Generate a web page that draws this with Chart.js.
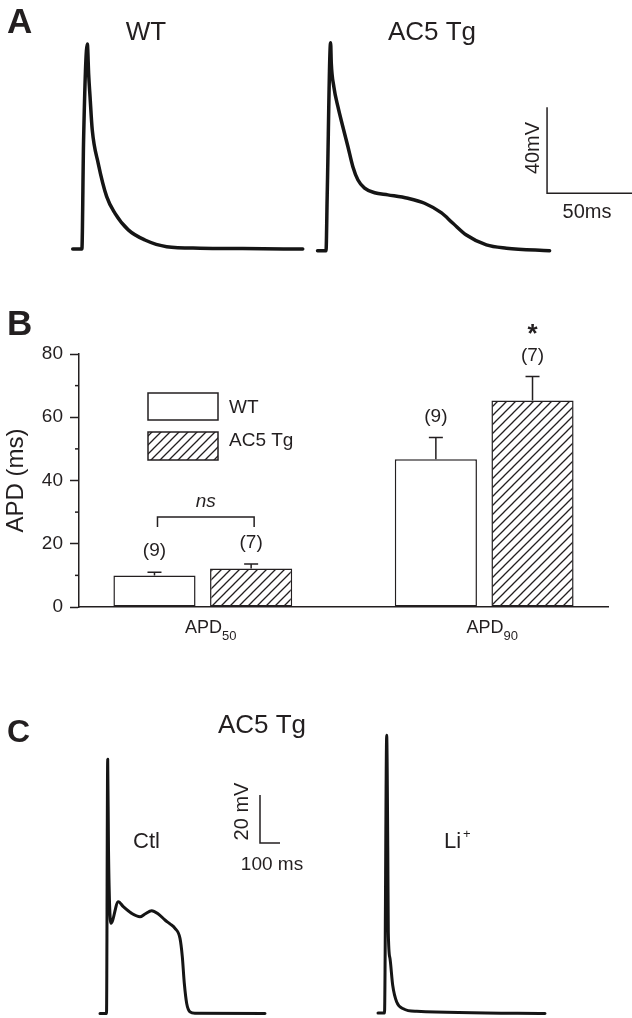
<!DOCTYPE html>
<html>
<head>
<meta charset="utf-8">
<title>AC5 Tg action potentials and APD</title>
<script src="https://cdn.jsdelivr.net/npm/chart.js@4/dist/chart.umd.min.js"></script>
<style>
  html, body { margin: 0; padding: 0; background: #fff; }
  #wrap { position: relative; width: 632px; height: 1018px; overflow: hidden; }
  canvas { position: absolute; left: 0; }
  #chart-a { top: 0; }
  #chart-b { top: 260px; }
  #chart-c { top: 680px; }
</style>
</head>
<body>
<div id="wrap">
  <canvas id="chart-a" width="632" height="260"></canvas>
  <canvas id="chart-b" width="632" height="420"></canvas>
  <canvas id="chart-c" width="632" height="338"></canvas>
</div>
<script>
// ── Panel A: action potentials (time in ms from trace start, voltage in mV) ──
const wtTime = [0, 5.4, 6.4, 8.6, 9.4, 10.2, 11.5, 15.0, 20.0, 24.9, 32.7, 42.5, 55.3, 74.9, 100, 135.4];
const wtVolt = [-80.5, -80.5, -29.8, 14.9, 0.5, -9.6, -25.1, -40.6, -56.1, -63.9, -71.6, -76.3, -79.4, -80.1, -80.3, -80.5];
const tgTime = [0, 5.0, 5.7, 7.7, 8.1, 9.6, 12.0, 14.9, 17.9, 20.8, 23.8, 27.7, 33.6, 41.4, 53.2, 63.0, 72.8, 79.7, 87.6, 99.4, 111.2, 136.6];
const tgVolt = [-81.3, -81.3, -55.3, 15.5, 5.9, -5.0, -14.3, -23.6, -32.9, -42.2, -48.4, -52.2, -54.3, -55.3, -56.9, -59.2, -63.6, -68.5, -74.0, -78.6, -80.1, -81.3];

// ── Panel B: APD summary ──
const apdLabels = ['50', '90'];        // APD subscripts
const apdPos = [1, 2];
const wtMean = [10.0, 46.7];
const wtSem = [1.0, 6.9];
const tgMean = [12.2, 65.3];
const tgSem = [1.4, 7.6];
const wtN = ['(9)', '(9)'];
const tgN = ['(7)', '(7)'];
const tgStar = ['', '*'];
const majorTicks = [0, 20, 40, 60, 80];
const minorTicks = [10, 30, 50, 70];

// ── Panel C: AC5 Tg, control vs Li+ ──
const ctlTime = [0, 32.5, 38.5, 42.5, 55, 91.5, 116.5, 158.5, 200, 225, 258.5, 291.5, 325, 350, 375, 400, 411.5, 421.5, 433.5, 450, 475, 825];
const ctlVolt = [-80.2, -80.2, 25.7, -12.1, -42.6, -33.6, -35.7, -38.5, -39.9, -38.75, -37.4, -38.75, -41.25, -42.9, -44.7, -48.9, -56.5, -67.6, -76, -79.5, -80.1, -80.2];
const liTime = [0, 32.5, 43.5, 49, 51.5, 60, 73.5, 93.5, 126.5, 193.5, 835];
const liVolt = [-80, -80, 35.7, -12.1, -46.2, -57.3, -68.4, -75.4, -78.2, -79.3, -80.2];

const FONT = '"Liberation Sans", Arial, sans-serif';
const INK = '#231f20';
const TRACE = '#151515';

function txt(ctx, s, x, y, o = {}) {
  ctx.save();
  ctx.font = `${o.style || ''} ${o.weight || ''} ${o.size || 19}px ${FONT}`;
  ctx.fillStyle = INK;
  ctx.textAlign = o.align || 'left';
  ctx.textBaseline = o.base || 'alphabetic';
  ctx.translate(x, y);
  if (o.rot) ctx.rotate(o.rot);
  ctx.fillText(s, 0, 0);
  ctx.restore();
}

function trace(time, volt, start, width) {
  return {
    data: time.map((t, i) => ({ x: t + start, y: volt[i] })),
    showLine: true,
    borderColor: TRACE,
    borderWidth: width,
    pointRadius: 0,
    cubicInterpolationMode: 'monotone',
    borderJoinStyle: 'round',
    borderCapStyle: 'round',
  };
}

function scaleBar(b) {
  return {
    data: [{ x: b.t, y: b.v + b.mV }, { x: b.t, y: b.v }, { x: b.t + b.ms, y: b.v }],
    showLine: true,
    borderColor: INK,
    borderWidth: 1.5,
    pointRadius: 0,
    tension: 0,
    borderJoinStyle: 'miter',
  };
}

function traceOptions(xmin, xmax, ymin, ymax) {
  return {
    responsive: false,
    animation: false,
    events: [],
    layout: { padding: 0 },
    plugins: { legend: { display: false }, tooltip: { enabled: false } },
    scales: {
      x: { type: 'linear', display: false, min: xmin, max: xmax },
      y: { type: 'linear', display: false, min: ymin, max: ymax },
    },
  };
}

// ── Panel A ──
const startA = [42.8, 186.9];
const scaleA = { t: 322, v: -54.5, ms: 50, mV: 40 };

new Chart(document.getElementById('chart-a'), {
  type: 'scatter',
  data: { datasets: [
    trace(wtTime, wtVolt, startA[0], 3.5),
    trace(tgTime, tgVolt, startA[1], 3.5),
    scaleBar(scaleA),
  ] },
  options: traceOptions(0, 372, -85.6, 35.35),
  plugins: [{
    id: 'labelsA',
    afterDraw(chart) {
      const ctx = chart.ctx;
      txt(ctx, 'A', 7, 33, { size: 35, weight: 'bold' });
      txt(ctx, 'WT', 146, 40, { size: 26, align: 'center' });
      txt(ctx, 'AC5 Tg', 432, 40, { size: 26, align: 'center' });
      txt(ctx, '40mV', 539, 148, { size: 20, align: 'center', rot: -Math.PI / 2 });
      txt(ctx, '50ms', 587, 218, { size: 20, align: 'center' });
    },
  }],
});

// ── Panel B ──
const ctxB = document.getElementById('chart-b').getContext('2d');
const hatch = (() => {
  const c = document.createElement('canvas');
  c.width = 9; c.height = 9;
  const g = c.getContext('2d');
  g.fillStyle = '#fff';
  g.fillRect(0, 0, 9, 9);
  g.strokeStyle = INK;
  g.lineWidth = 1.3;
  g.beginPath();
  g.moveTo(-1, 10); g.lineTo(10, -1);
  g.moveTo(-1, 1); g.lineTo(1, -1);
  g.moveTo(8, 10); g.lineTo(10, 8);
  g.stroke();
  return ctxB.createPattern(c, 'repeat');
})();

const barDecor = {
  id: 'barDecor',
  afterDraw(chart) {
    const ctx = chart.ctx;
    const y = chart.scales.y, x = chart.scales.x;
    const area = chart.chartArea;
    ctx.save();
    ctx.strokeStyle = INK;
    ctx.lineWidth = 1.5;

    // minor ticks
    minorTicks.forEach(v => {
      const py = y.getPixelForValue(v);
      ctx.beginPath(); ctx.moveTo(area.left - 4, py); ctx.lineTo(area.left, py); ctx.stroke();
    });

    // error bars (upper only) + n labels
    const sets = [[wtMean, wtSem, wtN], [tgMean, tgSem, tgN]];
    const nY = [[], []];
    sets.forEach(([mean, sem, n], d) => {
      chart.getDatasetMeta(d).data.forEach((el, i) => {
        const top = y.getPixelForValue(mean[i] + sem[i]);
        ctx.beginPath();
        ctx.moveTo(el.x, el.y); ctx.lineTo(el.x, top);
        ctx.moveTo(el.x - 7, top); ctx.lineTo(el.x + 7, top);
        ctx.stroke();
        nY[d][i] = top - 21;
        txt(ctx, n[i], el.x, nY[d][i], { size: 19, align: 'center', base: 'middle' });
      });
    });

    // significance marks
    const wtBars = chart.getDatasetMeta(0).data, tgBars = chart.getDatasetMeta(1).data;
    tgStar.forEach((s, i) => {
      if (s) txt(ctx, s, tgBars[i].x, nY[1][i] - 13, { size: 26, weight: 'bold', align: 'center' });
    });
    const bY = Math.min(nY[0][0], nY[1][0]) - 26;
    ctx.beginPath();
    ctx.moveTo(wtBars[0].x + 3, bY + 10); ctx.lineTo(wtBars[0].x + 3, bY);
    ctx.lineTo(tgBars[0].x + 3, bY); ctx.lineTo(tgBars[0].x + 3, bY + 10);
    ctx.stroke();
    txt(ctx, 'ns', (wtBars[0].x + tgBars[0].x) / 2 + 3, bY - 15, { size: 19, style: 'italic', align: 'center', base: 'middle' });

    // legend
    ctx.fillStyle = '#fff';
    ctx.fillRect(148, 133, 70, 27); ctx.strokeRect(148, 133, 70, 27);
    ctx.fillStyle = hatch;
    ctx.fillRect(148, 172, 70, 28); ctx.strokeRect(148, 172, 70, 28);
    txt(ctx, 'WT', 229, 147.5, { size: 19, base: 'middle' });
    txt(ctx, 'AC5 Tg', 229, 181, { size: 19, base: 'middle' });

    // category labels with subscripts
    apdPos.forEach((p, i) => {
      ctx.font = `18px ${FONT}`;
      const w1 = ctx.measureText('APD').width;
      ctx.font = `13px ${FONT}`;
      const w2 = ctx.measureText(apdLabels[i]).width;
      const left = x.getPixelForValue(p) + 8 - (w1 + w2) / 2;
      txt(ctx, 'APD', left, 373, { size: 18 });
      txt(ctx, apdLabels[i], left + w1, 380, { size: 13 });
    });

    txt(ctx, 'B', 7, 75, { size: 35, weight: 'bold' });
    ctx.restore();
  },
};

new Chart(ctxB, {
  type: 'bar',
  data: {
    datasets: [
      {
        label: 'WT',
        data: apdPos.map((p, i) => ({ x: p, y: wtMean[i] })),
        backgroundColor: '#fff',
        borderColor: INK,
        borderWidth: 1.5,
        borderSkipped: false,
      },
      {
        label: 'AC5 Tg',
        data: apdPos.map((p, i) => ({ x: p, y: tgMean[i] })),
        backgroundColor: hatch,
        borderColor: INK,
        borderWidth: 1.5,
        borderSkipped: false,
      },
    ],
  },
  options: {
    responsive: false,
    animation: false,
    events: [],
    categoryPercentage: 0.687,
    barPercentage: 0.85,
    layout: { padding: { top: 94, right: 24, left: 0, bottom: 0 } },
    plugins: { legend: { display: false }, tooltip: { enabled: false } },
    scales: {
      x: {
        type: 'linear',
        offset: false,
        min: 0.56,
        max: 2.44,
        afterBuildTicks: s => { s.ticks = apdPos.map(v => ({ value: v })); },
        afterFit: s => { s.height = 73; },
        ticks: { display: false },
        grid: { offset: false, drawOnChartArea: false, drawTicks: false },
        border: { color: INK, width: 1.5 },
      },
      y: {
        min: 0,
        max: 80,
        afterBuildTicks: s => { s.ticks = majorTicks.map(v => ({ value: v })); },
        afterFit: s => { s.width = 79; },
        ticks: { padding: 7, color: INK, font: { family: FONT, size: 19 } },
        grid: { drawOnChartArea: false, tickLength: 9, tickWidth: 1.5, tickColor: INK },
        border: { color: INK, width: 1.5 },
        title: { display: true, text: 'APD (ms)', color: INK, font: { family: FONT, size: 24 }, padding: { top: 2, bottom: 0 } },
      },
    },
  },
  plugins: [barDecor],
});

// ── Panel C ──
const startC = [500, 1890];
const scaleC = { t: 1300, v: -9.2, ms: 100, mV: 20 };

new Chart(document.getElementById('chart-c'), {
  type: 'scatter',
  data: { datasets: [
    trace(ctlTime, ctlVolt, startC[0], 3),
    trace(liTime, liVolt, startC[1], 3),
    scaleBar(scaleC),
  ] },
  options: traceOptions(0, 3160, -82.08, 58.75),
  plugins: [{
    id: 'labelsC',
    afterDraw(chart) {
      const ctx = chart.ctx;
      txt(ctx, 'C', 7, 62, { size: 32, weight: 'bold' });
      txt(ctx, 'AC5 Tg', 262, 53, { size: 26, align: 'center' });
      txt(ctx, 'Ctl', 133, 168, { size: 22 });
      txt(ctx, '20 mV', 248, 131.5, { size: 20, align: 'center', rot: -Math.PI / 2 });
      txt(ctx, '100 ms', 272, 190, { size: 19, align: 'center' });
      txt(ctx, 'Li', 444, 168, { size: 22 });
      txt(ctx, '+', 463, 158, { size: 13 });
    },
  }],
});
</script>
</body>
</html>
